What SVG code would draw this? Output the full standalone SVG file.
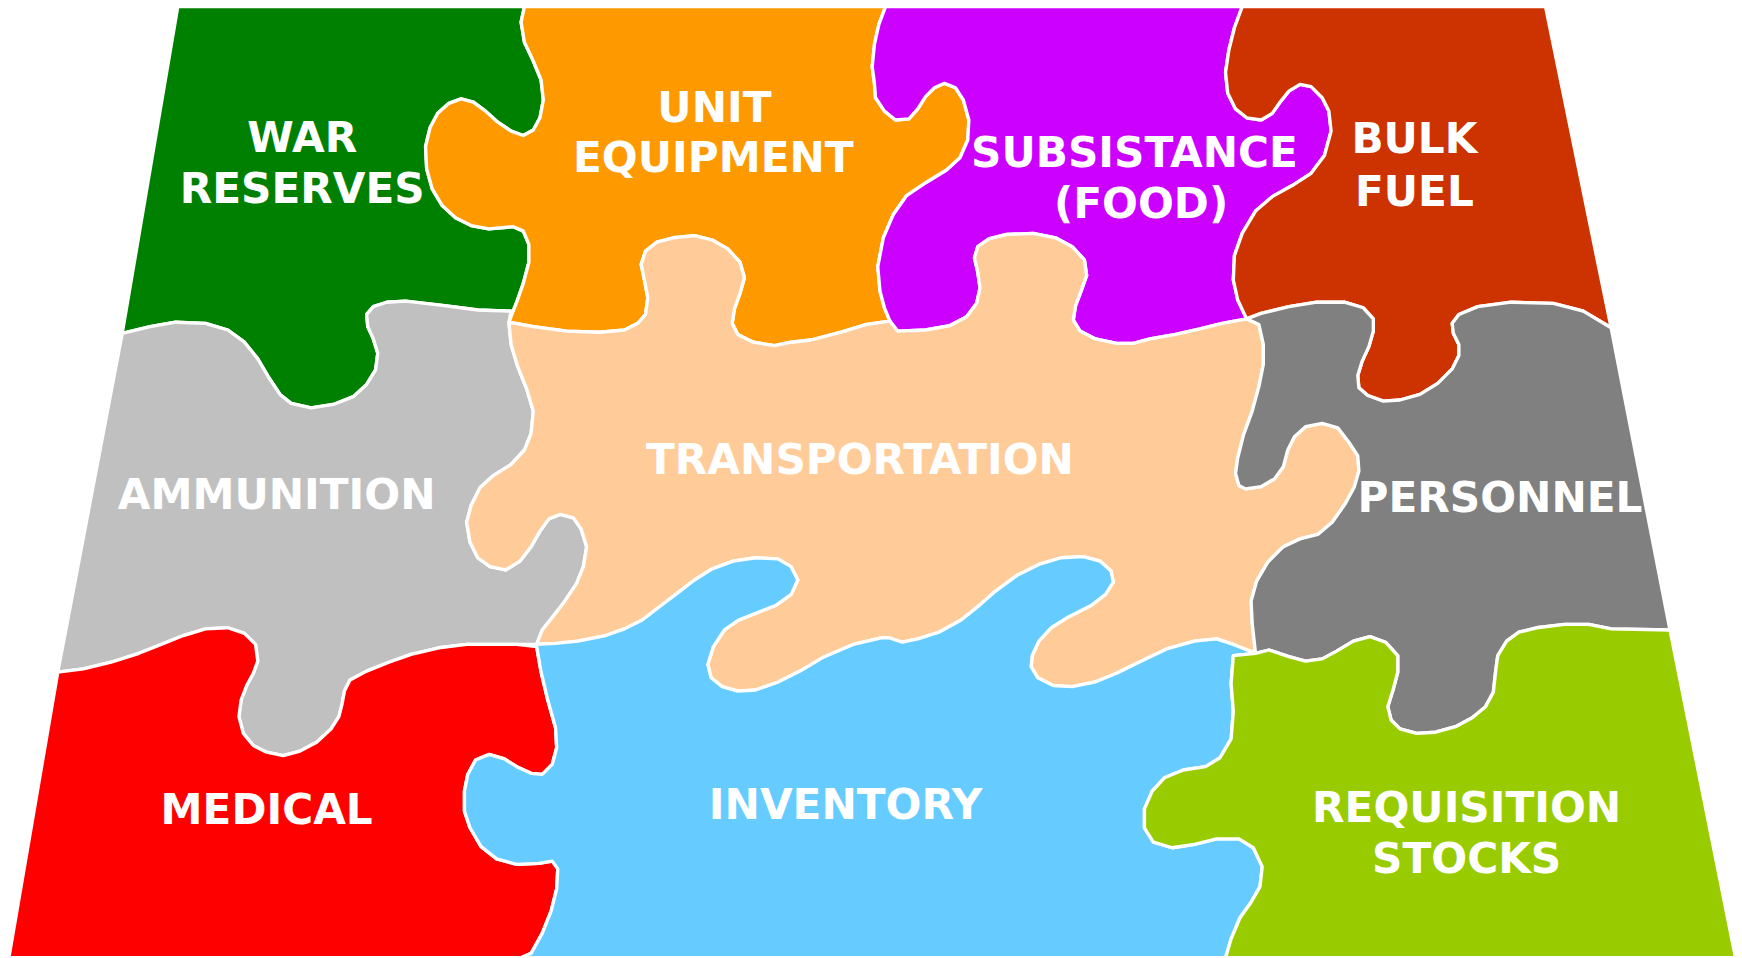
<svg xmlns="http://www.w3.org/2000/svg" width="1742" height="958" viewBox="0 0 1742 958">
<style>
.pc{stroke:#fff;stroke-width:3;stroke-linejoin:round}
.lbl{font-family:"DejaVu Sans","Liberation Sans",sans-serif;font-weight:bold;font-size:38px;fill:#fff;text-anchor:middle}
</style>
<rect width="1742" height="958" fill="#fff"/>
<g transform="scale(1.1111)">
<g id="war-reserves">
<path class="pc" fill="#008000" d="M160,6 L472,6 L469,20 L472,38 L480,55 L487,72 L489,90 L486,106 L480,117 L471,122 L460,118 L448,110 L437,100 L426,92 L415,89 L404,93 L394,102 L387,115 L383,132 L384,152 L389,170 L398,185 L410,196 L424,203 L440,206 L462,204 L471,208 L476,220 L476,236 L471,255 L465,272 L458,290 L460,280 L430,279 L400,275 L365,271 L348,272 L336,276 L330,283 L331,294 L336,305 L340,318 L338,333 L330,346 L318,357 L300,364 L280,367 L262,363 L252,355 L242,340 L232,323 L220,308 L205,297 L185,291 L158,290 L135,294 L110,300 Z"/>
<text class="lbl" x="272" y="137">WAR</text>
<text class="lbl" x="272" y="183">RESERVES</text>
</g>
<g id="unit-equipment">
<path class="pc" fill="#FF9900" d="M472,6 L797,6 L791,22 L787,40 L785,60 L787,75 L788,88 L796,100 L806,108 L818,107 L826,98 L833,87 L841,79 L850,75 L860,79 L867,90 L872,108 L871,126 L864,142 L852,153 L834,164 L816,176 L804,193 L795,214 L790,240 L792,262 L796,277 L801,289 L780,292 L757,299 L730,306 L712,308 L697,311 L678,308 L664,301 L659,291 L661,278 L666,264 L670,250 L666,236 L655,224 L641,216 L625,212 L606,214 L591,218 L581,226 L577,238 L580,252 L583,268 L581,283 L574,291 L562,297 L540,299 L510,298 L480,294 L458,290 L465,272 L471,255 L476,236 L476,220 L471,208 L462,204 L440,206 L424,203 L410,196 L398,185 L389,170 L384,152 L383,132 L387,115 L394,102 L404,93 L415,89 L426,92 L437,100 L448,110 L460,118 L471,122 L480,117 L486,106 L489,90 L487,72 L480,55 L472,38 L469,20 Z"/>
<text class="lbl" x="643" y="110">UNIT</text>
<text class="lbl" x="642" y="155">EQUIPMENT</text>
</g>
<g id="subsistance">
<path class="pc" fill="#CC00FF" d="M797,6 L1118,6 L1111,25 L1106,45 L1103,65 L1105,84 L1112,98 L1122,106 L1135,108 L1145,102 L1152,92 L1160,82 L1170,76 L1180,78 L1190,88 L1196,100 L1198,118 L1192,140 L1180,156 L1163,167 L1145,177 L1130,190 L1118,210 L1111,230 L1110,252 L1114,270 L1122,287 L1100,291 L1080,296 L1058,301 L1035,305 L1020,309 L1005,309 L986,305 L972,298 L966,288 L968,275 L973,262 L978,248 L976,234 L965,222 L950,214 L930,210 L906,211 L890,215 L880,222 L877,232 L880,245 L882,259 L879,273 L870,285 L855,293 L833,297 L808,298 L785,296 L801,289 L796,277 L792,262 L790,240 L795,214 L804,193 L816,176 L834,164 L852,153 L864,142 L871,126 L872,108 L867,90 L860,79 L850,75 L841,79 L833,87 L826,98 L818,107 L806,108 L796,100 L788,88 L787,75 L785,60 L787,40 L791,22 Z"/>
<text class="lbl" x="1021" y="150">SUBSISTANCE</text>
<text class="lbl" x="1027" y="196">(FOOD)</text>
</g>
<g id="bulk-fuel">
<path class="pc" fill="#CC3300" d="M1118,6 L1391,6 L1450,295 L1425,280 L1398,273 L1360,272 L1330,276 L1313,283 L1307,291 L1308,300 L1313,310 L1313,320 L1307,332 L1294,345 L1278,355 L1260,360 L1245,361 L1231,356 L1223,349 L1222,338 L1226,325 L1232,312 L1236,298 L1236,287 L1227,277 L1210,272 L1185,272 L1160,276 L1135,282 L1122,287 L1114,270 L1110,252 L1111,230 L1118,210 L1130,190 L1145,177 L1163,167 L1180,156 L1192,140 L1198,118 L1196,100 L1190,88 L1180,78 L1170,76 L1160,82 L1152,92 L1145,102 L1135,108 L1122,106 L1112,98 L1105,84 L1103,65 L1106,45 L1111,25 Z"/>
<text class="lbl" x="1273" y="138">BULK</text>
<text class="lbl" x="1273" y="185">FUEL</text>
</g>
<g id="ammunition">
<path class="pc" fill="#C0C0C0" d="M110,300 L135,294 L158,290 L185,291 L205,297 L220,308 L232,323 L242,340 L252,355 L262,363 L280,367 L300,364 L318,357 L330,346 L338,333 L340,318 L336,305 L331,294 L330,283 L336,276 L348,272 L365,271 L400,275 L430,279 L460,280 L458,290 L460,310 L466,330 L474,350 L480,370 L478,390 L472,405 L460,418 L444,428 L432,439 L424,455 L420,470 L423,488 L430,502 L441,510 L455,513 L468,505 L478,492 L486,478 L494,467 L504,463 L516,466 L523,476 L528,492 L525,510 L519,525 L507,543 L496,557 L488,567 L483,580 L465,580 L445,580 L420,580 L395,583 L370,589 L350,596 L330,604 L315,612 L310,622 L308,633 L305,645 L298,656 L285,668 L270,676 L255,680 L240,677 L228,671 L219,660 L215,645 L217,630 L222,617 L228,606 L232,595 L230,580 L220,570 L205,565 L185,566 L165,572 L145,580 L125,588 L100,596 L75,602 L52,605 Z"/>
<text class="lbl" x="249" y="458">AMMUNITION</text>
</g>
<g id="transportation">
<path class="pc" fill="#FFCC99" d="M458,290 L480,294 L510,298 L540,299 L562,297 L574,291 L581,283 L583,268 L580,252 L577,238 L581,226 L591,218 L606,214 L625,212 L641,216 L655,224 L666,236 L670,250 L666,264 L661,278 L659,291 L664,301 L678,308 L697,311 L712,308 L730,306 L757,299 L780,292 L801,289 L808,298 L833,297 L855,293 L870,285 L879,273 L882,259 L880,245 L877,232 L880,222 L890,215 L906,211 L930,210 L950,214 L965,222 L976,234 L978,248 L973,262 L968,275 L966,288 L972,298 L986,305 L1005,309 L1020,309 L1035,305 L1058,301 L1080,296 L1100,291 L1122,287 L1133,292 L1137,310 L1137,328 L1133,348 L1127,370 L1119,392 L1114,412 L1112,426 L1115,437 L1121,440 L1135,438 L1147,431 L1155,420 L1159,405 L1165,393 L1175,384 L1190,381 L1204,385 L1214,398 L1222,410 L1223,424 L1219,438 L1211,453 L1199,470 L1186,481 L1170,485 L1155,492 L1141,506 L1131,523 L1126,541 L1127,561 L1130,588 L1110,580 L1095,575 L1075,577 L1050,584 L1025,596 L1005,606 L985,614 L965,618 L948,617 L934,610 L928,600 L929,590 L935,577 L946,565 L962,555 L982,545 L995,535 L1002,524 L1000,514 L990,505 L975,501 L955,502 L935,508 L915,518 L896,532 L880,546 L865,558 L845,569 L826,575 L812,578 L800,574 L793,574 L768,580 L742,591 L720,604 L700,614 L680,621 L664,622 L650,618 L640,610 L637,598 L642,582 L652,567 L665,558 L680,552 L698,545 L712,535 L718,522 L712,510 L700,503 L680,502 L660,505 L641,512 L625,522 L612,532 L595,545 L578,558 L562,566 L545,572 L520,577 L500,579 L483,580 L488,567 L496,557 L507,543 L519,525 L525,510 L528,492 L523,476 L516,466 L504,463 L494,467 L486,478 L478,492 L468,505 L455,513 L441,510 L430,502 L423,488 L420,470 L424,455 L432,439 L444,428 L460,418 L472,405 L478,390 L480,370 L474,350 L466,330 L460,310 Z"/>
<text class="lbl" x="774" y="427">TRANSPORTATION</text>
</g>
<g id="personnel">
<path class="pc" fill="#808080" d="M1122,287 L1135,282 L1160,276 L1185,272 L1210,272 L1227,277 L1236,287 L1236,298 L1232,312 L1226,325 L1222,338 L1223,349 L1231,356 L1245,361 L1260,360 L1278,355 L1294,345 L1307,332 L1313,320 L1313,310 L1308,300 L1307,291 L1313,283 L1330,276 L1360,272 L1398,273 L1425,280 L1450,295 L1503,567 L1450,566 L1430,562 L1408,562 L1383,565 L1367,569 L1356,577 L1348,590 L1346,605 L1344,623 L1337,636 L1325,646 L1310,654 L1292,659 L1275,660 L1260,656 L1252,648 L1249,636 L1254,620 L1258,605 L1258,590 L1247,578 L1233,573 L1218,577 L1203,586 L1190,593 L1175,595 L1160,591 L1142,585 L1130,588 L1127,561 L1126,541 L1131,523 L1141,506 L1155,492 L1170,485 L1186,481 L1199,470 L1211,453 L1219,438 L1223,424 L1222,410 L1214,398 L1204,385 L1190,381 L1175,384 L1165,393 L1159,405 L1155,420 L1147,431 L1135,438 L1121,440 L1115,437 L1112,426 L1114,412 L1119,392 L1127,370 L1133,348 L1137,328 L1137,310 L1133,292 Z"/>
<text class="lbl" x="1350" y="461">PERSONNEL</text>
</g>
<g id="medical">
<path class="pc" fill="#FF0000" d="M52,605 L75,602 L100,596 L125,588 L145,580 L165,572 L185,566 L205,565 L220,570 L230,580 L232,595 L228,606 L222,617 L217,630 L215,645 L219,660 L228,671 L240,677 L255,680 L270,676 L285,668 L298,656 L305,645 L308,633 L310,622 L315,612 L330,604 L350,596 L370,589 L395,583 L420,580 L445,580 L465,580 L483,582 L487,605 L493,630 L500,655 L501,673 L497,688 L488,697 L478,696 L465,690 L454,683 L440,679 L428,684 L421,697 L418,712 L418,730 L423,745 L433,762 L447,773 L465,778 L485,777 L497,775 L502,782 L501,800 L496,820 L488,840 L478,858 L469,862 L8,862 Z"/>
<text class="lbl" x="240" y="742">MEDICAL</text>
</g>
<g id="inventory">
<path class="pc" fill="#66CCFF" d="M483,580 L500,579 L520,577 L545,572 L562,566 L578,558 L595,545 L612,532 L625,522 L641,512 L660,505 L680,502 L700,503 L712,510 L718,522 L712,535 L698,545 L680,552 L665,558 L652,567 L642,582 L637,598 L640,610 L650,618 L664,622 L680,621 L700,614 L720,604 L742,591 L768,580 L793,574 L800,574 L812,578 L826,575 L845,569 L865,558 L880,546 L896,532 L915,518 L935,508 L955,502 L975,501 L990,505 L1000,514 L1002,524 L995,535 L982,545 L962,555 L946,565 L935,577 L929,590 L928,600 L934,610 L948,617 L965,618 L985,614 L1005,606 L1025,596 L1050,584 L1075,577 L1095,575 L1110,580 L1130,588 L1110,590 L1108,615 L1110,640 L1108,665 L1098,682 L1085,690 L1065,693 L1048,700 L1037,712 L1030,728 L1030,745 L1038,758 L1055,763 L1075,760 L1095,755 L1115,755 L1128,763 L1136,780 L1134,798 L1126,812 L1116,826 L1108,845 L1103,862 L469,862 L478,858 L488,840 L496,820 L501,800 L502,782 L497,775 L485,777 L465,778 L447,773 L433,762 L423,745 L418,730 L418,712 L421,697 L428,684 L440,679 L454,683 L465,690 L478,696 L488,697 L497,688 L501,673 L500,655 L493,630 L487,605 L483,582 Z"/>
<text class="lbl" x="761" y="737">INVENTORY</text>
</g>
<g id="requisition-stocks">
<path class="pc" fill="#99CC00" d="M1130,588 L1142,585 L1160,591 L1175,595 L1190,593 L1203,586 L1218,577 L1233,573 L1247,578 L1258,590 L1258,605 L1254,620 L1249,636 L1252,648 L1260,656 L1275,660 L1292,659 L1310,654 L1325,646 L1337,636 L1344,623 L1346,605 L1348,590 L1356,577 L1367,569 L1383,565 L1408,562 L1430,562 L1450,566 L1503,567 L1562,862 L1103,862 L1108,845 L1116,826 L1126,812 L1134,798 L1136,780 L1128,763 L1115,755 L1095,755 L1075,760 L1055,763 L1038,758 L1030,745 L1030,728 L1037,712 L1048,700 L1065,693 L1085,690 L1098,682 L1108,665 L1110,640 L1108,615 L1110,590 Z"/>
<text class="lbl" x="1320" y="740">REQUISITION</text>
<text class="lbl" x="1320" y="786">STOCKS</text>
</g>
</g>
</svg>
